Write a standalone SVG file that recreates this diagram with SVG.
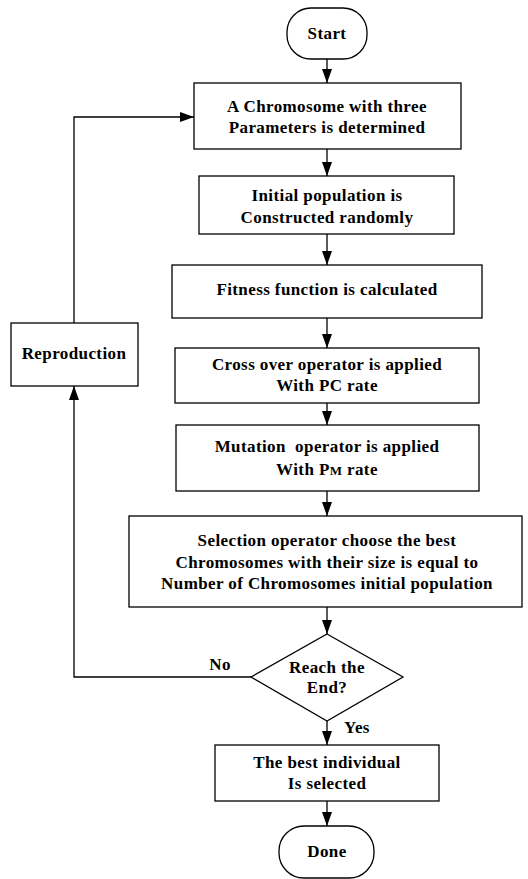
<svg xmlns="http://www.w3.org/2000/svg" width="528" height="879" viewBox="0 0 528 879">
<defs>
<marker id="ah" markerWidth="14" markerHeight="10" refX="14" refY="5" orient="auto" markerUnits="userSpaceOnUse">
<path d="M0,0 L14,5 L0,10 Z" fill="#000"/>
</marker>
<style>
.n{fill:#fff;stroke:#000;stroke-width:1.3}
.t{font-family:"Liberation Serif","Times New Roman",serif;font-weight:bold;font-size:17px;letter-spacing:0.4px;text-anchor:middle;fill:#000}
.c{fill:none;stroke:#000;stroke-width:1.3;marker-end:url(#ah)}
</style>
</defs>
<rect width="528" height="879" fill="#fff"/>
<g id="connectors">
<line class="c" x1="327" y1="59" x2="327" y2="83"/>
<line class="c" x1="327" y1="149" x2="327" y2="176"/>
<line class="c" x1="327" y1="234" x2="327" y2="265"/>
<line class="c" x1="327" y1="318" x2="327" y2="348"/>
<line class="c" x1="327" y1="403" x2="327" y2="425"/>
<line class="c" x1="327" y1="491" x2="327" y2="516"/>
<line class="c" x1="327" y1="607" x2="327" y2="634"/>
<line class="c" x1="327" y1="721" x2="327" y2="745"/>
<line class="c" x1="327" y1="801" x2="327" y2="826"/>
<polyline class="c" points="251,677 74,677 74,386"/>
<polyline class="c" points="74,323 74,117 194,117"/>
<text class="t" x="220" y="670">No</text>
<text class="t" x="357" y="733">Yes</text>
</g>
<g id="start">
<rect class="n" x="287" y="8" width="80" height="51" rx="24" ry="24"/>
<text class="t" x="327" y="39">Start</text>
</g>
<g id="chromosome">
<rect class="n" x="194" y="83" width="267" height="66"/>
<text class="t" x="327" y="112">A Chromosome with three</text>
<text class="t" x="327" y="133">Parameters is determined</text>
</g>
<g id="initial">
<rect class="n" x="199" y="176" width="255" height="58"/>
<text class="t" x="327" y="201">Initial population is</text>
<text class="t" x="327" y="223">Constructed randomly</text>
</g>
<g id="fitness">
<rect class="n" x="172" y="265" width="310" height="53"/>
<text class="t" x="327" y="295">Fitness function is calculated</text>
</g>
<g id="crossover">
<rect class="n" x="175" y="348" width="304" height="55"/>
<text class="t" x="327" y="370">Cross over operator is applied</text>
<text class="t" x="327" y="391">With PC rate</text>
</g>
<g id="mutation">
<rect class="n" x="176" y="425" width="303" height="66"/>
<text class="t" x="327" y="452" xml:space="preserve">Mutation  operator is applied</text>
<text class="t" x="327" y="475">With P<tspan font-size="13">M</tspan> rate</text>
</g>
<g id="selection">
<rect class="n" x="129" y="516" width="393" height="91"/>
<text class="t" x="327" y="546">Selection operator choose the best</text>
<text class="t" x="327" y="568">Chromosomes with their size is equal to</text>
<text class="t" x="327" y="589">Number of Chromosomes initial population</text>
</g>
<g id="decision">
<polygon class="n" points="327,634 403,677 327,721 251,677"/>
<text class="t" x="327" y="673">Reach the</text>
<text class="t" x="327" y="693">End?</text>
</g>
<g id="best">
<rect class="n" x="215" y="745" width="224" height="56"/>
<text class="t" x="327" y="768">The best individual</text>
<text class="t" x="327" y="789">Is selected</text>
</g>
<g id="done">
<rect class="n" x="279" y="826" width="95" height="52" rx="25" ry="25"/>
<text class="t" x="327" y="857">Done</text>
</g>
<g id="reproduction">
<rect class="n" x="11" y="323" width="127" height="63"/>
<text class="t" x="74" y="359">Reproduction</text>
</g>
</svg>
